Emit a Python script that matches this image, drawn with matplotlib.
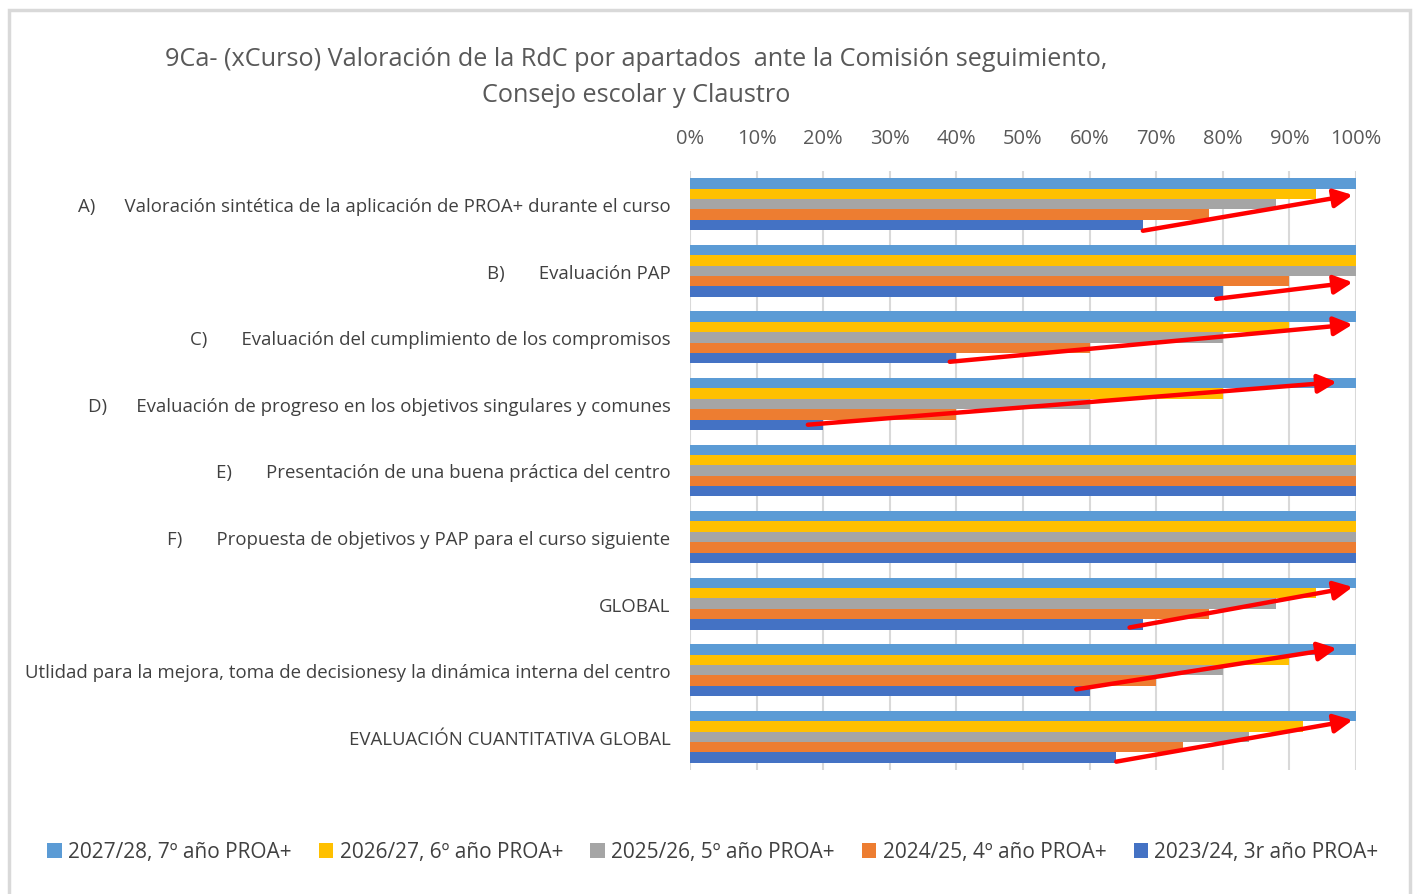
import matplotlib.pyplot as plt
from matplotlib.patches import Rectangle
import numpy as np

plt.rcParams['font.family'] = ['Open Sans', 'DejaVu Sans']

categories = [
    "A)      Valoración sintética de la aplicación de PROA+ durante el curso",
    "B)       Evaluación PAP",
    "C)       Evaluación del cumplimiento de los compromisos",
    "D)      Evaluación de progreso en los objetivos singulares y comunes",
    "E)       Presentación de una buena práctica del centro",
    "F)       Propuesta de objetivos y PAP para el curso siguiente",
    "GLOBAL",
    "Utlidad para la mejora, toma de decisionesy la dinámica interna del centro",
    "EVALUACIÓN CUANTITATIVA GLOBAL",
]
series_names = ["2027/28, 7º año PROA+", "2026/27, 6º año PROA+", "2025/26, 5º año PROA+",
                "2024/25, 4º año PROA+", "2023/24, 3r año PROA+"]
colors = ["#5B9BD5", "#FFC000", "#A5A5A5", "#ED7D31", "#4472C4"]

v2027 = [100, 100, 100, 100, 100, 100, 100, 100, 100]
v2026 = [94, 100, 90, 80, 100, 100, 94, 90, 92]
v2025 = [88, 100, 80, 60, 100, 100, 88, 80, 84]
v2024 = [78, 90, 60, 40, 100, 100, 78, 70, 74]
v2023 = [68, 80, 40, 20, 100, 100, 68, 60, 64]
values = [v2027, v2026, v2025, v2024, v2023]

# trend arrows: (category, x start, y offset start [bar heights], x end, y offset end)
arrows = [
    (0, 68, 2.55, 99.5, -0.9),
    (1, 79, 2.7, 99.5, 1.1),
    (2, 39, 2.35, 99.5, -1.25),
    (3, 17.7, 2.0, 97.1, -2.1),
    (6, 66, 2.3, 99.5, -1.6),
    (7, 58, 1.85, 97.1, -2.1),
    (8, 64, 2.4, 99.5, -1.6),
]

fig = plt.figure(figsize=(14.19, 8.95), dpi=100)
fig.patches.append(Rectangle((0.006, -0.01), 0.988, 0.998, transform=fig.transFigure,
                             fill=False, edgecolor="#d9d9d9", lw=2.5))
ax = fig.add_axes([690 / 1419, 1 - 771 / 895, 666 / 1419, 599 / 895])

h = 0.156
y = np.arange(len(categories))
for j, vals in enumerate(values):
    ax.barh(y + (j - 2) * h, vals, height=h, color=colors[j], label=series_names[j], zorder=3)

for c, x0, o0, x1, o1 in arrows:
    ax.annotate("", xy=(x1, c + o1 * h), xytext=(x0, c + o0 * h),
                arrowprops=dict(arrowstyle="-|>", color="red", lw=3.2, mutation_scale=28,
                                shrinkA=0, shrinkB=0), zorder=5)

ax.set_xlim(0, 100)
ax.set_ylim(len(categories) - 0.5, -0.5)
ax.set_xticks(np.arange(0, 101, 10))
ax.set_xticklabels([f"{t}%" for t in range(0, 101, 10)])
ax.xaxis.tick_top()
ax.set_yticks(y)
ax.set_yticklabels(categories)
ax.tick_params(axis="x", length=0, pad=16.5, labelsize=14.5, labelcolor="#595959")
ax.tick_params(axis="y", length=0, pad=14, labelsize=13.4, labelcolor="#404040")
ax.grid(axis="x", color="#d9d9d9", lw=1.5, zorder=0)
for s in ax.spines.values():
    s.set_visible(False)

fig.text(636 / 1419, 1 - 59 / 895, "9Ca- (xCurso) Valoración de la RdC por apartados  ante la Comisión seguimiento,",
         ha="center", va="center", fontsize=18.2, color="#595959")
fig.text(636 / 1419, 1 - 95 / 895, "Consejo escolar y Claustro",
         ha="center", va="center", fontsize=18.2, color="#595959")

fig.legend(loc="center", bbox_to_anchor=(713 / 1419, 1 - 853 / 895), ncol=5, frameon=False,
           fontsize=15, labelcolor="#404040", handlelength=0.7, handleheight=0.7,
           handletextpad=0.3, columnspacing=1.3)

fig.savefig("out.png", dpi=100)
